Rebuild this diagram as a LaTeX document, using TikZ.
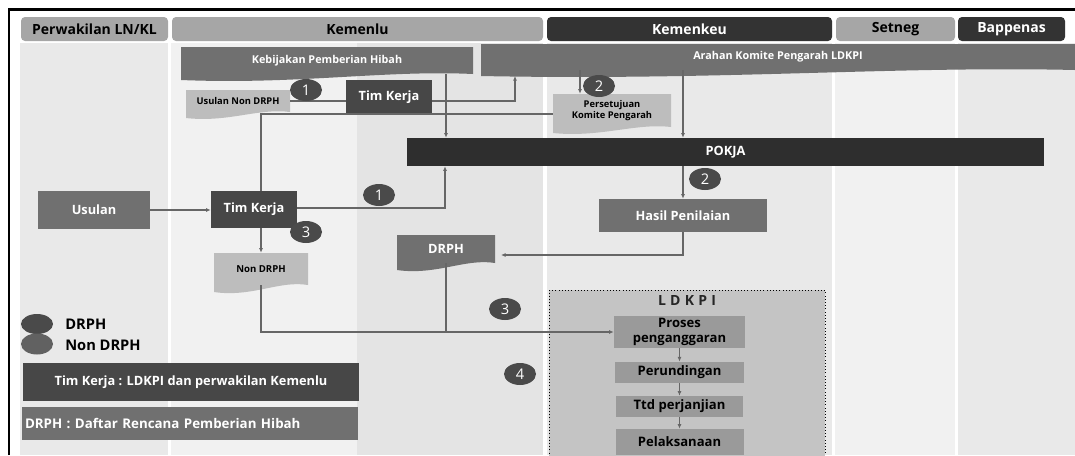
\documentclass[tikz,border=0pt]{standalone}
\usepackage{fontspec}
\setmainfont{Open Sans}
\usetikzlibrary{positioning,shapes.geometric,arrows.meta}
\definecolor{LaneGray}{HTML}{E9E9E9}
\definecolor{LaneLight}{HTML}{F1F1F1}
\definecolor{LaneMid}{HTML}{E4E4E4}
\definecolor{HeadGray}{HTML}{A6A6A6}
\definecolor{HeadDark}{HTML}{333333}
\definecolor{BoxDark}{HTML}{474747}
\definecolor{BoxMid}{HTML}{707070}
\definecolor{DocLight}{HTML}{BDBDBD}
\definecolor{PokjaBlack}{HTML}{2E2E2E}
\definecolor{StepGray}{HTML}{9A9A9A}
\definecolor{LdkpiGray}{HTML}{C4C4C4}
\definecolor{LineGray}{HTML}{666666}
\definecolor{NumGray}{HTML}{4A4A4A}

% document shape: fill, left, top, right, bottom, dip of the wavy edge
\newcommand{\docshape}[6]{%
  \fill[#1] (#2,#3) -- (#4,#3) -- (#4,#5)
    .. controls ({#4-0.3*(#4-#2)},{#5-0.7*#6}) and ({#2+0.4*(#4-#2)},{#5+1.8*#6}) .. (#2,{#5+#6}) -- cycle;}

\begin{document}
\begin{tikzpicture}[x=0.75pt,y=-0.75pt,>={Latex[length=3.5pt,width=3pt]},
    sz/.style 2 args={minimum width=#1*0.75pt,minimum height=#2*0.75pt},
    head/.style={rounded corners=3pt,inner sep=0pt,font=\bfseries\fontsize{10.5}{12}\selectfont},
    banner/.style={inner sep=0pt,text=white,font=\bfseries\fontsize{8.1}{9}\selectfont},
    doc/.style={inner sep=0pt,align=center,font=\bfseries\fontsize{7}{8.5}\selectfont},
    box/.style={inner sep=0pt,text=white,font=\bfseries\fontsize{9.6}{11}\selectfont},
    stepbox/.style={fill=StepGray,inner sep=0pt,align=center,font=\bfseries\fontsize{9.8}{11}\selectfont},
    num/.style={ellipse,fill=NumGray,inner sep=0pt,sz={32}{22},text=white,font=\fontsize{11}{11}\selectfont},
    conn/.style={draw=LineGray,line width=0.8pt},
    arrow/.style={conn,->}]
  \useasboundingbox (0,0) rectangle (1075,455);

  % lanes
  \fill[LaneGray] (20,43) rectangle (168,455);
  \fill[LaneLight] (171,43) rectangle (357,455);
  \fill[LaneMid] (357,43) rectangle (543,455);
  \fill[LaneGray] (547,43) rectangle (832,455);
  \fill[LaneLight] (835,43) rectangle (955,455);
  \fill[LaneGray] (958,43) rectangle (1075,455);
  \draw[line width=1.6pt] (9,455) -- (9,9.5) -- (1075,9.5);

  % headers
  \node[head,fill=HeadGray,sz={147}{24}] (hPerw) at (94.5,29) {Perwakilan LN/KL};
  \node[head,fill=HeadGray,sz={371}{24}] (hKemenlu) at (357.5,29) {Kemenlu};
  \node[head,fill=HeadDark,text=white,sz={285}{24}] (hKemenkeu) at (689.5,29) {Kemenkeu};
  \node[head,fill=HeadGray,sz={119}{24}] (hSetneg) at (895.5,29) {Setneg};
  \node[head,fill=HeadDark,text=white,sz={107}{24}] (hBappenas) at (1011.5,29) {Bappenas};

  % banners and documents
  \docshape{BoxMid}{181}{47}{473}{74}{6}
  \node[banner,sz={292}{27}] (kebijakan) at (327,60.5) {Kebijakan Pemberian Hibah};
  \docshape{BoxMid}{481}{44}{1075}{70}{6}
  \node[banner,sz={594}{26}] (arahan) at (778,57) {Arahan Komite Pengarah LDKPI};
  \docshape{DocLight}{186}{90}{290}{112}{6}
  \node[doc,sz={104}{22}] (usulanNon) at (238,101) {Usulan Non DRPH};
  \docshape{DocLight}{553}{94}{671}{127}{6}
  \node[doc,sz={118}{33}] (persetujuan) at (612,110.5) {Persetujuan\\Komite Pengarah};
  \docshape{DocLight}{214}{253}{308}{285}{7}
  \node[doc,font=\bfseries\fontsize{7.2}{8.5}\selectfont,sz={94}{32}] (nondrph) at (261,269) {Non DRPH};
  \docshape{BoxMid}{397}{235}{495}{263}{7}
  \node[box,sz={98}{28}] (drph) at (446,249) {DRPH};

  % boxes
  \node[box,fill=BoxDark,sz={86}{34}] (tk1) at (389,97) {Tim Kerja};
  \node[box,fill=PokjaBlack,sz={637}{28}] (pokja) at (725.5,152) {POKJA};
  \node[box,fill=BoxMid,sz={112}{38}] (usulan) at (94,210) {Usulan};
  \node[box,fill=BoxDark,sz={86}{37}] (tk2) at (254,209.5) {Tim Kerja};
  \node[box,fill=BoxMid,sz={168}{33}] (hasil) at (683,215.5) {Hasil Penilaian};

  % LDKPI
  \node[draw=black,dotted,fill=LdkpiGray,inner sep=0pt,sz={276}{175}] (ldkpi) at (687,377.5) {};
  \node[below=0.5pt of ldkpi.north,font=\bfseries\fontsize{10.5}{11}\selectfont\addfontfeatures{LetterSpace=30},text=black!85] (ldkpiTitle) {LDKPI};
  \node[stepbox,sz={131}{32}] (proses) at (679.5,332) {Proses\\penganggaran};
  \node[stepbox,sz={129}{21},below=10pt of proses] (perundingan) {Perundingan};
  \node[stepbox,sz={127}{21},below=9.5pt of perundingan] (ttd) {Ttd perjanjian};
  \node[stepbox,sz={128}{26},below=8.5pt of ttd] (pelaksanaan) {Pelaksanaan};

  % legend
  \node[ellipse,fill=NumGray,sz={32}{20}] (legA) at (37,324) {};
  \node[ellipse,fill=black!62,sz={32}{21}] (legB) at (37,344) {};
  \node[anchor=west,inner sep=0pt,font=\bfseries\fontsize{11}{12}\selectfont] (legAtxt) at (65,324) {DRPH};
  \node[anchor=west,inner sep=0pt,font=\bfseries\fontsize{11}{12}\selectfont] (legBtxt) at (65,345) {Non DRPH};
  \node[box,fill=BoxDark,sz={336}{38}] (legTim) at (191,382) {Tim Kerja : LDKPI dan perwakilan Kemenlu};
  \node[box,fill=BoxMid,sz={336}{33},inner xsep=2.25pt,text width=247.5pt,align=left,font=\bfseries\fontsize{10}{11}\selectfont] (legDrph) at (190,423.5) {DRPH : Daftar Rencana Pemberian Hibah};

  % connectors
  \coordinate (arahanIn) at (515,76);
  \coordinate (drphIn) at (501,255);
  \draw[conn] (usulanNon.east) -- (usulanNon.east -| tk1.west);
  \draw[arrow] (tk1.east |- usulanNon.east) -| (arahanIn);
  \draw[arrow] (kebijakan.south -| 446,0) -- (pokja.north -| 446,0);
  \draw[arrow] (arahan.south -| 580,0) -- (persetujuan.north -| 580,0);
  \draw[arrow] (arahan.south -| 683,0) -- (pokja.north -| 683,0);
  \draw[conn] (persetujuan.west |- 0,114) -| (tk2.north -| nondrph.north);
  \draw[arrow] (usulan.east) -- (usulan.east -| tk2.west);
  \draw[arrow] (tk2.east |- 0,208) -| (pokja.south -| 445,0);
  \draw[arrow] (tk2.south -| nondrph.north) -- (nondrph.north);
  \draw[arrow] (pokja.south -| hasil.north) -- (hasil.north);
  \draw[arrow] (hasil.south) |- (drphIn);
  \draw[arrow] (nondrph.south) |- (proses.west);
  \draw[conn] (drph.south) -- (drph.south |- proses.west);
  \draw[arrow] (proses) -- (perundingan);
  \draw[arrow] (perundingan) -- (ttd);
  \draw[arrow] (ttd) -- (pelaksanaan);

  % step numbers
  \node[num] (n1a) at (306,90) {1};
  \node[num] (n2a) at (599,86) {2};
  \node[num] (n1b) at (379,195) {1};
  \node[num] (n2b) at (705,179) {2};
  \node[num] (n3a) at (306,232) {3};
  \node[num] (n3b) at (505,309) {3};
  \node[num] (n4) at (520,374) {4};
\end{tikzpicture}
\end{document}
